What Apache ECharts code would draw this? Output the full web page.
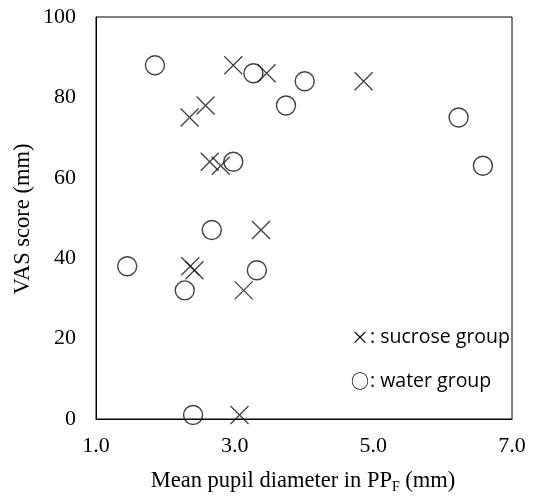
<!DOCTYPE html>
<html>
<head>
<meta charset="utf-8">
<script src="https://cdn.jsdelivr.net/npm/echarts@6/dist/echarts.min.js"></script>
<style>html,body{margin:0;padding:0;background:#fff}#c{width:537px;height:496px}</style>
</head>
<body>
<div id="c"></div>
<script>
const sucroseX = [2.98, 3.46, 2.58, 2.35, 2.64, 2.80, 4.86, 3.38, 2.36, 2.42, 3.13, 3.07];
const sucroseY = [88, 86, 78, 75, 64, 63, 84, 47, 38, 37, 32, 1];
const waterX = [1.85, 3.27, 4.01, 3.74, 2.98, 6.23, 6.58, 2.67, 1.45, 3.32, 2.28, 2.40];
const waterY = [88, 86, 84, 78, 64, 75, 63, 47, 38, 37, 32, 1];
const xTicks = [1, 3, 5, 7];
const yTicks = [0, 20, 40, 60, 80, 100];

const chart = echarts.init(document.getElementById('c'));
const serif = '"Liberation Serif", "Times New Roman", serif';
const sans = '"Open Sans", sans-serif';
const cjk = '"Noto Sans CJK JP", sans-serif';
const crossPath = 'path://M0,0L10,10M10,0L0,10';
chart.setOption({
  animation: false,
  backgroundColor: '#fff',
  grid: { left: 96, right: 25, top: 17, bottom: 77, show: true, borderColor: '#000', borderWidth: 1 },
  xAxis: {
    type: 'value', min: xTicks[0], max: xTicks[xTicks.length - 1], interval: 2,
    axisLine: { show: true, lineStyle: { color: '#000', width: 1 } },
    axisTick: { show: false }, splitLine: { show: false },
    axisLabel: { color: '#000', fontFamily: serif, fontSize: 22, margin: 16,
      formatter: v => v.toFixed(1) }
  },
  yAxis: {
    type: 'value', min: yTicks[0], max: yTicks[yTicks.length - 1], interval: 20,
    axisLine: { show: true, lineStyle: { color: '#000', width: 1 } },
    axisTick: { show: false }, splitLine: { show: false },
    axisLabel: { color: '#000', fontFamily: serif, fontSize: 22, margin: 20 }
  },
  series: [
    {
      name: 'sucrose group', type: 'scatter', symbol: crossPath, symbolSize: 18,
      itemStyle: { color: 'none', borderColor: '#111', borderWidth: 1.3 },
      data: sucroseX.map((x, i) => [x, sucroseY[i]])
    },
    {
      name: 'water group', type: 'scatter', symbol: 'circle', symbolSize: 19,
      itemStyle: { color: 'none', borderColor: '#111', borderWidth: 1.4 },
      data: waterX.map((x, i) => [x, waterY[i]])
    }
  ],
  graphic: [
    { type: 'text', x: 303, y: 481, style: {
        text: '{a|Mean pupil diameter in PP}{s|F}{a| (mm)}',
        rich: { a: { fontFamily: serif, fontSize: 22.5, fill: '#000' },
                s: { fontFamily: serif, fontSize: 14, fill: '#000', padding: [12, 0, 0, 0] } },
        align: 'center', verticalAlign: 'middle' } },
    { type: 'text', x: 23, y: 219, rotation: Math.PI / 2, style: {
        text: 'VAS score (mm)', fontFamily: serif, fontSize: 22.5, fill: '#000',
        align: 'center', verticalAlign: 'middle' } },
    { type: 'text', x: 351, y: 337, style: {
        text: '{g|×}{t|: sucrose group}',
        rich: { g: { fontFamily: cjk, fontSize: 18, fill: '#000', padding: [0, 1, 0, 0] },
                t: { fontFamily: sans, fontSize: 19.5, fill: '#000' } },
        verticalAlign: 'middle' } },
    { type: 'text', x: 351, y: 381, style: {
        text: '{g|○}{t|: water group}',
        rich: { g: { fontFamily: cjk, fontSize: 18, fill: '#000', padding: [0, 1, 0, 0] },
                t: { fontFamily: sans, fontSize: 19.5, fill: '#000' } },
        verticalAlign: 'middle' } }
  ]
});
</script>
</body>
</html>
